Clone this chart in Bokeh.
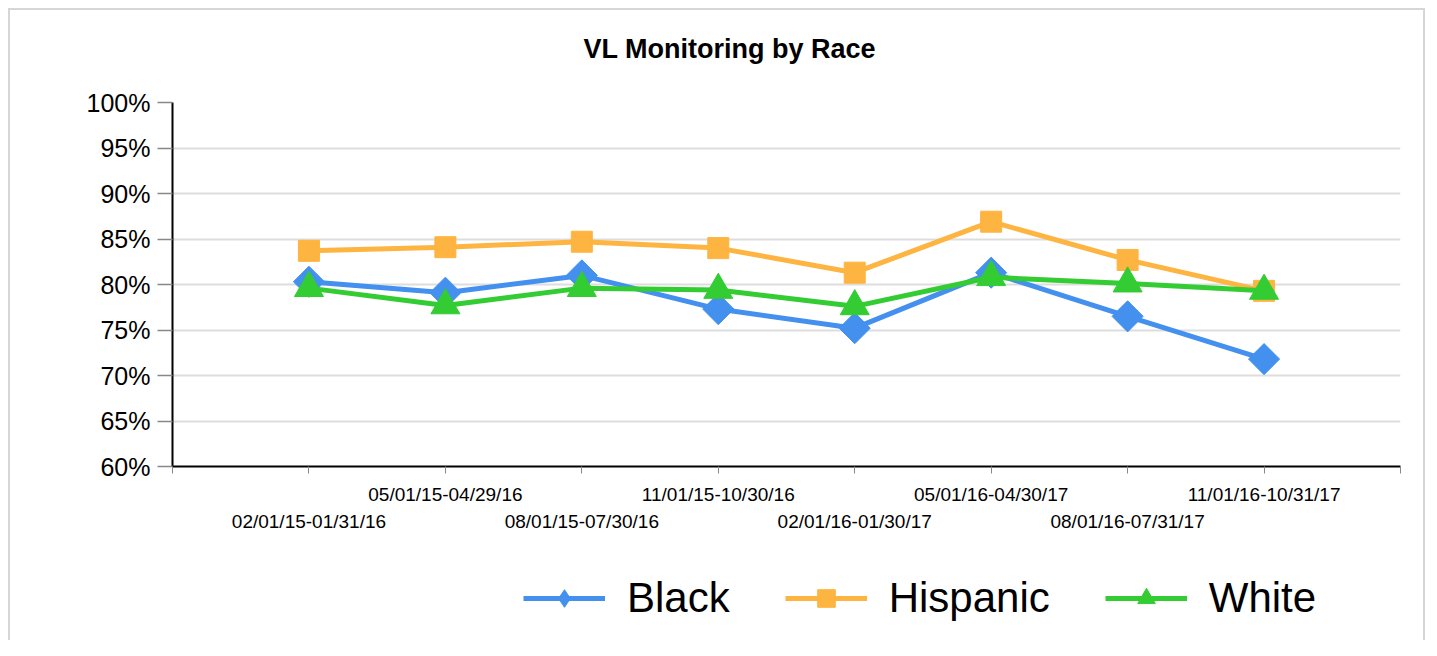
import math
from bokeh.plotting import figure
from bokeh.layouts import column
from bokeh.models import (Range1d, FixedTicker, LinearAxis, Legend, LegendItem)
from bokeh.embed import file_html
from bokeh.resources import INLINE

# ---- data ----
categories = ["02/01/15-01/31/16", "05/01/15-04/29/16", "08/01/15-07/30/16",
              "11/01/15-10/30/16", "02/01/16-01/30/17", "05/01/16-04/30/17",
              "08/01/16-07/31/17", "11/01/16-10/31/17"]
black = [80.3, 79.1, 81.0, 77.3, 75.2, 81.3, 76.5, 71.8]
hispanic = [83.7, 84.1, 84.7, 84.0, 81.3, 86.9, 82.7, 79.3]
white = [79.6, 77.7, 79.6, 79.4, 77.6, 80.8, 80.1, 79.3]
series_names = ["Black", "Hispanic", "White"]
y_ticks = [60, 65, 70, 75, 80, 85, 90, 95, 100]
y_labels = [f"{t}%" for t in y_ticks]
title_text = "VL Monitoring by Race"

FONT = "Liberation Sans"
colors = ["#4390EF", "#FEB441", "#33CC33"]
BORDER = "2px solid #d6d6d6"

xs = list(range(1, len(categories) + 1))

p = figure(width=1417, height=531,
           x_range=Range1d(0, len(categories) + 1), y_range=Range1d(60, 100),
           output_backend="svg", toolbar_location=None,
           min_border_left=162, min_border_right=27,
           min_border_top=92, min_border_bottom=75)
p.styles = {"margin-left": "8px", "margin-top": "8px",
            "border-top": BORDER, "border-left": BORDER, "border-right": BORDER}
p.outline_line_color = None
p.background_fill_color = "white"
p.border_fill_color = "white"

# keep references to the default axes before adding more
xa = p.xaxis[0]
ya = p.yaxis[0]

# invisible spacer between the plot area and the title
top_spacer = LinearAxis(ticker=FixedTicker(ticks=[0]), major_label_overrides={0: ""},
                        axis_line_color=None, major_tick_line_color=None,
                        minor_tick_line_color=None, major_tick_out=34, major_tick_in=0,
                        major_label_standoff=0, major_label_text_font_size="1px")
p.add_layout(top_spacer, "above")

# title
p.title.text = title_text
p.title.align = "left"
p.title.text_font = FONT
p.title.text_font_size = "27px"
p.title.text_font_style = "bold"
p.title.text_color = "black"
p.title.offset = 411
p.title.standoff = 10

# y axis
ya.ticker = FixedTicker(ticks=y_ticks)
ya.major_label_overrides = {t: l for t, l in zip(y_ticks, y_labels)}
ya.major_label_text_font = FONT
ya.major_label_text_font_size = "25px"
ya.major_label_text_color = "black"
ya.axis_line_color = "black"
ya.axis_line_width = 2
ya.major_tick_out = 15
ya.major_tick_in = 0
ya.major_tick_line_color = "#888888"
ya.major_tick_line_width = 1.5
ya.minor_tick_line_color = None
ya.major_label_standoff = 7

p.ygrid.ticker = FixedTicker(ticks=y_ticks)
p.ygrid.grid_line_color = "#dddddd"
p.ygrid.grid_line_width = 2
p.xgrid.visible = False

# x axis (upper row: even positions)
all_ticks = list(range(0, len(categories) + 2))
xa.ticker = FixedTicker(ticks=all_ticks)
ov1 = {t: "" for t in all_ticks}
for i, c in enumerate(categories):
    if (i + 1) % 2 == 0:
        ov1[i + 1] = c
xa.major_label_overrides = ov1
xa.major_label_text_font = FONT
xa.major_label_text_font_size = "19px"
xa.major_label_text_color = "black"
xa.axis_line_color = "black"
xa.axis_line_width = 2
xa.major_tick_out = 7
xa.major_tick_in = 0
xa.major_tick_line_color = "#888888"
xa.minor_tick_line_color = None
xa.major_label_standoff = 10

# x axis (lower row: odd positions)
odd_ticks = [i + 1 for i in range(len(categories)) if (i + 1) % 2 == 1]
ax2 = LinearAxis(ticker=FixedTicker(ticks=odd_ticks),
                 major_label_overrides={i + 1: c for i, c in enumerate(categories) if (i + 1) % 2 == 1},
                 axis_line_color=None, major_tick_line_color=None,
                 minor_tick_line_color=None, major_tick_out=0, major_tick_in=0,
                 major_label_standoff=3,
                 major_label_text_font=FONT, major_label_text_font_size="19px",
                 major_label_text_color="black")
p.add_layout(ax2, "below")

# series
vals = [black, hispanic, white]
markers = [("square", math.pi / 4, 22), ("square", 0, 21), ("triangle", 0, 29)]
for name, v, col, (mk, ang, sz) in zip(series_names, vals, colors, markers):
    p.line(xs, v, line_color=col, line_width=5)
    p.scatter(xs, v, marker=mk, angle=ang, size=sz, fill_color=col, line_color=col)

# legend strip below the chart
pl = figure(width=1417, height=101, x_range=Range1d(0, 1), y_range=Range1d(0, 1),
            output_backend="svg", toolbar_location=None, title=None,
            x_axis_location=None, y_axis_location=None, min_border=0)
pl.styles = {"margin-left": "8px", "border-left": BORDER, "border-right": BORDER}
pl.outline_line_color = None
pl.grid.visible = False
pl.background_fill_color = "white"
pl.border_fill_color = "white"

leg_markers = ["diamond", "square", "triangle"]
items = []
for name, col, mk in zip(series_names, colors, leg_markers):
    lr = pl.line([5, 6], [5, 6], line_color=col, line_width=5)
    sr = pl.scatter([5], [5], marker=mk, size=10, fill_color=col, line_color=col)
    items.append(LegendItem(label=name, renderers=[lr, sr]))

legend = Legend(items=items, location=(351, 18), orientation="horizontal",
                glyph_width=82, glyph_height=44, label_height=48,
                label_standoff=22, spacing=55,
                padding=0, margin=0, border_line_color=None,
                background_fill_alpha=0,
                label_text_font=FONT, label_text_font_size="42px",
                label_text_color="black")
pl.add_layout(legend)

layout = column(p, pl, spacing=0)
open("out.html", "w").write(file_html(layout, INLINE))
